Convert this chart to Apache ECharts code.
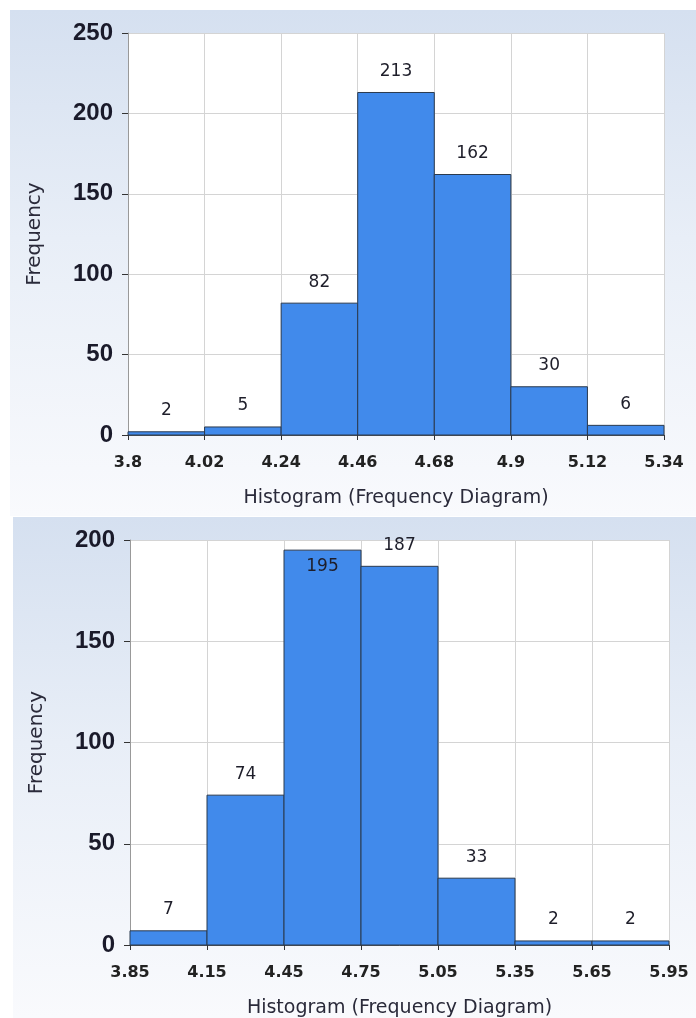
<!DOCTYPE html>
<html>
<head>
<meta charset="utf-8">
<script src="https://cdn.jsdelivr.net/npm/echarts@6/dist/echarts.min.js"></script>
<style>
html,body{margin:0;padding:0;background:#fff;width:696px;height:1018px;overflow:hidden;}
.panel{position:absolute;background:linear-gradient(to bottom,#d5e0f0 0%,#e8eef7 45%,#f9fafd 100%);}
#c1{left:10px;top:10px;width:686px;height:506px;}
#c2{left:13px;top:517px;width:683px;height:501px;}
</style>
</head>
<body>
<div id="c1" class="panel"></div>
<div id="c2" class="panel"></div>
<script>
// Chart 1 data
const edges1 = ['3.8','4.02','4.24','4.46','4.68','4.9','5.12','5.34'];
const freq1 = [2, 5, 82, 213, 162, 30, 6];
const yMax1 = 250;
// Chart 2 data
const edges2 = ['3.85','4.15','4.45','4.75','5.05','5.35','5.65','5.95'];
const freq2 = [7, 74, 195, 187, 33, 2, 2];
const yMax2 = 200;
const yInterval = 50;
const xTitle = 'Histogram (Frequency Diagram)';
const yTitle = 'Frequency';

function makeOption(edges, freq, yMax, grid) {
  const font = 'DejaVu Sans';
  return {
    animation: false,
    grid: Object.assign({show: true, backgroundColor: '#ffffff', borderWidth: 0,
      containLabel: false, outerBoundsMode: 'none'}, grid),
    xAxis: {
      type: 'value', min: 0, max: edges.length - 1, interval: 1,
      name: xTitle, nameLocation: 'middle', nameGap: 54,
      nameTextStyle: {fontFamily: font, fontSize: 19, color: '#2a2a3a'},
      axisLine: {show: true, onZero: false, lineStyle: {color: '#555', width: 1}},
      axisTick: {show: true, length: 5, lineStyle: {color: '#333'}},
      axisLabel: {fontFamily: font, fontSize: 16, fontWeight: 'bold', color: '#222', margin: 20,
        formatter: v => edges[v]},
      splitLine: {show: true, lineStyle: {color: '#d4d4d4'}}
    },
    yAxis: {
      type: 'value', min: 0, max: yMax, interval: yInterval,
      name: yTitle, nameLocation: 'middle', nameGap: 83, nameRotate: 90,
      nameTextStyle: {fontFamily: font, fontSize: 20, color: '#2a2a3a'},
      axisLine: {show: true, lineStyle: {color: '#999'}},
      axisTick: {show: true, length: 6, lineStyle: {color: '#333'}},
      axisLabel: {fontFamily: 'Liberation Sans', fontSize: 24, fontWeight: 'bold', color: '#1a1a2a', margin: 15},
      splitLine: {show: true, lineStyle: {color: '#d4d4d4'}}
    },
    series: [{
      type: 'custom',
      data: freq.map((f, i) => [i, f]),
      renderItem: function (params, api) {
        const i = api.value(0), f = api.value(1);
        const p0 = api.coord([i, 0]);
        const p1 = api.coord([i + 1, f]);
        const gridTop = params.coordSys.y;
        const cx = (p0[0] + p1[0]) / 2;
        let ly = p1[1] - 21;
        if (ly < gridTop) ly = p1[1] + 16;
        return {
          type: 'group',
          children: [
            {type: 'rect', shape: {x: p0[0], y: p1[1], width: p1[0] - p0[0], height: p0[1] - p1[1]},
             style: {fill: '#418aeb', stroke: '#2b3a4e', lineWidth: 1}},
            {type: 'text', x: cx, y: ly,
             style: {text: String(f), fill: '#1e1e2a', font: '17px "DejaVu Sans"', align: 'center', verticalAlign: 'middle'}}
          ]
        };
      }
    }]
  };
}

const ch1 = echarts.init(document.getElementById('c1'));
ch1.setOption(makeOption(edges1, freq1, yMax1, {left: 118, top: 23, width: 536, height: 402}));
const ch2 = echarts.init(document.getElementById('c2'));
ch2.setOption(makeOption(edges2, freq2, yMax2, {left: 117, top: 23, width: 539, height: 405}));
</script>
</body>
</html>
